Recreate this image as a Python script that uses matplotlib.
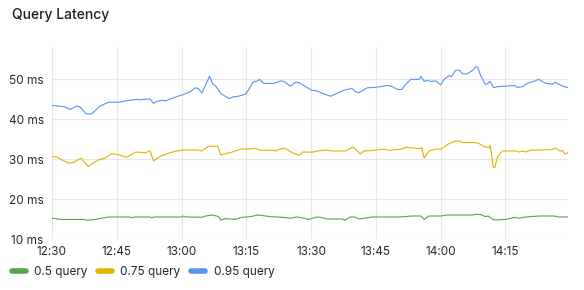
#!/usr/bin/env python3
# query_latency.py – Grafana-style latency quantiles panel
import matplotlib as mpl

mpl.use("Agg")
mpl.rcParams["font.family"] = ["Inter", "DejaVu Sans"]

import matplotlib.dates as mdates
import matplotlib.pyplot as plt
import pandas as pd
from matplotlib.lines import Line2D

# ─── data (minutes after 12:30, latency in ms) ───────────────────────
START = pd.Timestamp("2024-01-01 12:30")

p50_min = [0, 1.9, 7.3, 8.1, 9.6, 11.5, 13.1, 18.1, 18.6, 19.0, 22.7, 23.1, 23.6,
           30.1, 30.5, 31.0, 34.8, 35.6, 37.0, 38.3, 38.7, 39.1, 40.1, 42.4, 43.9,
           45.9, 47.8, 50.5, 53.6, 55.2, 56.7, 58.3, 59.5, 61.4, 62.5, 63.7, 67.2,
           67.8, 69.1, 70.3, 71.1, 72.2, 74.2, 80.0, 81.0, 83.4, 85.4, 86.2, 87.3,
           90.0, 91.6, 97.4, 98.2, 99.3, 100.4, 101.0, 102.3, 105.1, 107.0, 108.2,
           109.7, 112.8, 116.3, 117.5, 119.5]
p50_val = [15.2, 14.9, 14.9, 14.7, 14.8, 15.2, 15.5, 15.5, 15.3, 15.5, 15.5, 15.3, 15.5,
           15.5, 15.75, 15.5, 15.45, 15.75, 16.0, 15.7, 15.45, 14.7, 15.1, 14.9, 15.4,
           15.6, 16.0, 15.6, 15.4, 15.2, 15.5, 15.2, 14.9, 15.5, 15.35, 15.0, 15.0,
           14.7, 15.5, 15.45, 15.0, 15.2, 15.5, 15.5, 15.55, 15.75, 15.75, 14.9, 15.75,
           15.75, 16.0, 16.0, 16.2, 16.1, 15.6, 15.75, 14.75, 14.9, 15.4, 15.2,
           15.5, 15.75, 15.75, 15.5, 15.5]

p75_min = [0, 1.1, 2.3, 3.8, 4.9, 6.7, 7.2, 8.4, 9.6, 11.1, 12.3, 13.8, 15.0, 16.2,
           17.3, 19.3, 20.4, 21.5, 22.7, 23.5, 25.1, 26.6, 28.1, 29.3, 30.5, 33.6,
           34.7, 36.3, 38.4, 39.1, 40.1, 41.6, 42.7, 43.9, 45.9, 47.0, 48.2, 51.3,
           51.7, 52.9, 53.9, 54.8, 56.0, 57.2, 58.1, 60.3, 61.4, 63.4, 64.9, 68.0,
           68.8, 69.6, 70.3, 71.4, 72.2, 74.1, 76.1, 77.2, 77.9, 80.7, 81.9, 85.4,
           85.6, 86.2, 87.3, 88.9, 90.0, 91.2, 92.0, 93.5, 94.5, 95.1, 98.2, 99.0,
           100.1, 101.3, 101.5, 102.2, 102.6, 103.2, 104.3, 107.4, 108.2, 109.0,
           109.8, 110.9, 112.0, 116.0, 116.6, 117.5, 118.3, 118.8, 119.6]
p75_val = [30.6, 30.5, 29.75, 29.0, 29.1, 30.2, 29.6, 28.1, 29.1, 29.9, 30.2, 31.3, 31.2, 30.8,
           30.4, 31.7, 31.7, 31.5, 32.1, 29.5, 30.7, 31.3, 31.8, 32.1, 32.25, 32.25,
           32.0, 33.2, 33.2, 31.0, 31.3, 31.7, 32.1, 32.5, 32.5, 32.7, 32.2, 32.2,
           32.0, 32.5, 32.7, 32.1, 31.4, 30.9, 31.75, 31.7, 32.0, 32.25, 32.0, 32.0,
           32.5, 33.0, 32.5, 31.25, 32.0, 32.1, 32.4, 32.4, 32.2, 32.4, 32.9, 32.6,
           32.9, 30.2, 32.0, 32.5, 32.4, 33.3, 33.9, 34.5, 34.5, 34.1, 34.1, 33.8,
           33.1, 32.8, 33.4, 27.9, 28.0, 30.6, 32.0, 32.0, 31.75, 32.0,
           31.75, 32.25, 32.2, 32.4, 32.8, 32.1, 32.0, 31.2, 31.7]

p95_min = [0, 1.9, 3.0, 4.2, 5.7, 6.5, 7.9, 9.2, 11.1, 13.1, 15.8, 16.3, 18.1, 19.6,
           20.6, 22.0, 22.7, 23.5, 24.3, 25.5, 26.3, 27.4, 28.9, 30.1, 32.0, 33.2,
           33.9, 34.7, 36.5, 37.2, 37.9, 39.1, 40.1, 41.1, 41.8, 43.2, 44.8, 45.6,
           46.5, 47.5, 48.1, 49.0, 51.4, 52.9, 53.7, 55.2, 56.5, 57.2, 58.7, 60.1,
           61.4, 62.9, 64.5, 66.0, 67.6, 68.4, 69.5, 70.3, 71.1, 71.8, 73.0, 74.6,
           76.1, 77.7, 78.8, 80.0, 81.0, 81.9, 83.1, 85.0, 85.5, 86.2, 86.9, 87.6,
           88.9, 90.0, 90.8, 91.9, 92.5, 93.5, 94.3, 95.1, 96.2, 97.4, 98.2, 98.6,
           99.3, 100.3, 100.8, 101.5, 102.3, 103.2, 105.1, 107.1, 107.8, 109.0,
           110.2, 111.3, 112.7, 114.4, 116.0, 116.5, 117.9, 118.5, 119.6]
p95_val = [43.4, 43.2, 43.0, 42.4, 43.2, 43.0, 41.3, 41.3, 43.2, 44.2, 44.2, 44.4, 44.7, 44.9,
           44.8, 45.0, 45.0, 43.9, 44.4, 44.7, 44.5, 45.0, 45.6, 46.0, 46.8, 47.8,
           47.6, 46.5, 50.7, 48.8, 48.3, 46.3, 45.7, 45.1, 45.5, 45.7, 46.2, 47.4,
           49.2, 49.5, 49.9, 48.9, 48.9, 49.5, 49.4, 48.2, 49.2, 49.1, 48.1, 47.2,
           47.0, 46.3, 45.7, 46.4, 47.2, 47.4, 47.6, 46.8, 46.6, 47.0, 47.8, 47.9,
           48.1, 48.4, 48.1, 47.4, 47.4, 48.6, 49.9, 49.9, 50.6, 49.4, 49.7, 49.4,
           49.5, 48.5, 49.9, 50.8, 50.6, 52.2, 52.2, 51.3, 51.3, 52.2, 53.1, 52.9,
           50.8, 48.7, 48.8, 49.4, 47.8, 48.1, 48.2, 48.4, 47.9, 48.1,
           49.0, 49.3, 49.9, 48.9, 48.7, 49.2, 48.4, 48.1, 47.9]

SERIES = [
    ("0.5 query", p50_min, p50_val, "#56A64B"),
    ("0.75 query", p75_min, p75_val, "#E0B400"),
    ("0.95 query", p95_min, p95_val, "#5794F2"),
]

Y_TICKS = [10, 20, 30, 40, 50]
X_END_MIN = 119.5

TEXT = "#24292E"
GRID = "#E8E8E8"

# ─── figure ──────────────────────────────────────────────────────────
fig = plt.figure(figsize=(5.84, 2.90), dpi=100)
W, H = 584, 290
ax = fig.add_axes([52 / W, 1 - 239 / H, (568 - 52) / W, (239 - 47) / H])

for label, mins, vals, color in SERIES:
    t = START + pd.to_timedelta(mins, unit="m")
    ax.plot(t, vals, color=color, lw=0.8, solid_joinstyle="round")

ax.set_xlim(START, START + pd.Timedelta(minutes=X_END_MIN))
ax.set_ylim(10, 58)
ax.set_yticks(Y_TICKS)
ax.set_yticklabels([f"{v} ms" for v in Y_TICKS])
ax.xaxis.set_major_locator(mdates.MinuteLocator(byminute=[0, 15, 30, 45]))
ax.xaxis.set_major_formatter(mdates.DateFormatter("%H:%M"))

for s in ax.spines.values():
    s.set_visible(False)
ax.grid(True, color=GRID, lw=0.8)
ax.set_axisbelow(True)
ax.tick_params(axis="both", length=0, labelsize=8.5, colors=TEXT)
ax.tick_params(axis="y", pad=6)
ax.tick_params(axis="x", pad=5)

fig.text(12 / W, 1 - 15 / H, "Query Latency", fontsize=10, fontweight="medium",
         color="#1F1F20", ha="left", va="center")

handles = [Line2D([], [], color=c, lw=4, solid_capstyle="round") for _, _, _, c in SERIES]
fig.legend(handles, [s[0] for s in SERIES], loc="center left",
           bbox_to_anchor=(1 / W, 1 - 272 / H), ncol=3, frameon=False,
           fontsize=8.5, handlelength=1.2, handletextpad=0.7, columnspacing=0.9,
           labelcolor=TEXT)

fig.savefig("out.png", dpi=100, facecolor="white")
